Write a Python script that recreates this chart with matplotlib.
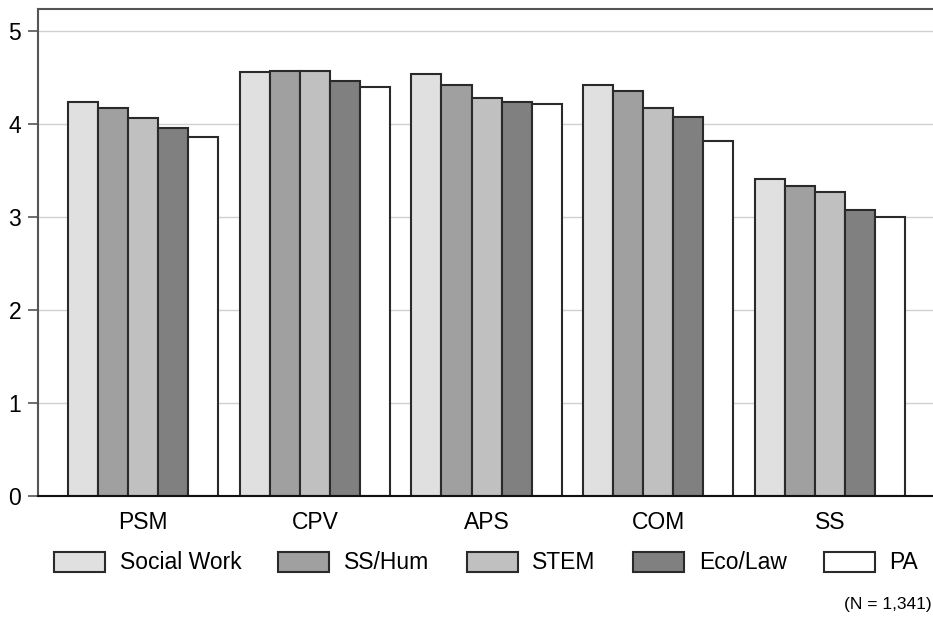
import numpy as np
import matplotlib.pyplot as plt

plt.rcParams['font.family'] = ['Liberation Sans', 'DejaVu Sans']

# mean scores by field of study
categories = ['PSM', 'CPV', 'APS', 'COM', 'SS']
groups = ['Social Work', 'SS/Hum', 'STEM', 'Eco/Law', 'PA']
social_work = [4.24, 4.56, 4.54, 4.42, 3.41]
ss_hum      = [4.17, 4.57, 4.42, 4.35, 3.33]
stem        = [4.07, 4.57, 4.28, 4.17, 3.27]
eco_law     = [3.96, 4.46, 4.24, 4.08, 3.08]
pa          = [3.86, 4.40, 4.22, 3.82, 3.00]
series = [social_work, ss_hum, stem, eco_law, pa]
colors = ['#e0e0e0', '#a0a0a0', '#c0c0c0', '#808080', '#ffffff']

fig = plt.figure(figsize=(9.33, 6.19), dpi=100)
ax = fig.add_axes([0.0407, 0.1987, 0.9593, 0.7868])

x = np.arange(len(categories))
w = 0.175
for i, (vals, name) in enumerate(zip(series, groups)):
    ax.bar(x + (i - 2) * w, vals, width=w, color=colors[i], edgecolor='#2a2a2a',
           linewidth=1.5, label=name, zorder=3)

ax.set_xlim(-0.6125, 4.60)
ax.set_ylim(0, 5.237)
ax.set_yticks([0, 1, 2, 3, 4, 5])
ax.set_xticks(x)
ax.set_xticklabels(categories)
ax.grid(axis='y', color='#d0d0d0', linewidth=1, zorder=0)
ax.tick_params(axis='x', length=0, pad=11, labelsize=16.5)
ax.tick_params(axis='y', length=7, width=1.2, color='#555555', pad=5, labelsize=16.5)

ax.spines['right'].set_visible(False)
ax.spines['top'].set_color('#555555')
ax.spines['left'].set_color('#555555')
ax.spines['top'].set_linewidth(1.5)
ax.spines['left'].set_linewidth(1.5)
ax.spines['bottom'].set_color('#111111')
ax.spines['bottom'].set_linewidth(1.5)
ax.spines['bottom'].set_zorder(4)

fig.legend(loc='center', bbox_to_anchor=(0.521, 0.0905), bbox_transform=fig.transFigure,
           ncol=5, frameon=False, fontsize=16.5, handlelength=2.22, handleheight=0.96,
           handletextpad=0.65, columnspacing=1.62, borderpad=0)

fig.text(0.998, 0.024, '(N = 1,341)', ha='right', va='center', fontsize=12.5)

plt.savefig('out.png', dpi=100)
